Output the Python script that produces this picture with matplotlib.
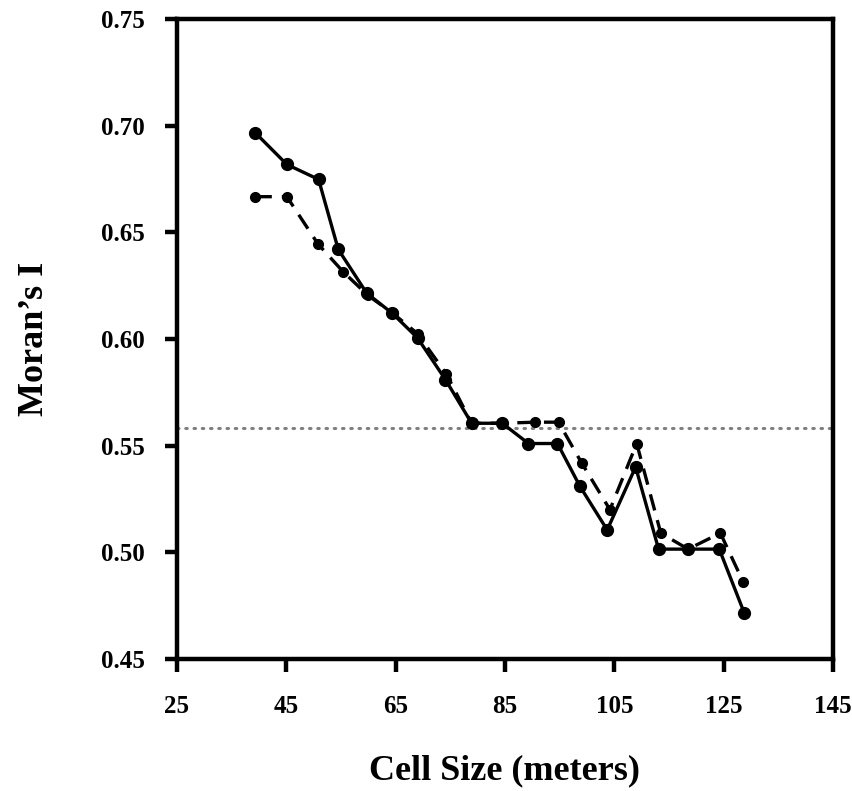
import matplotlib
matplotlib.use("Agg")
import matplotlib.pyplot as plt

# cell size vs Moran's I, two series
cell_solid = [39.3, 45.1, 50.9, 54.5, 59.7, 64.4, 69.0, 74.1, 78.9, 84.5,
              89.3, 94.6, 98.7, 103.7, 108.9, 113.1, 118.5, 124.2, 128.8]
moran_solid = [0.6967, 0.6818, 0.6748, 0.6420, 0.6215, 0.6120, 0.6005, 0.5810, 0.5605, 0.5605,
               0.5510, 0.5510, 0.5310, 0.5105, 0.5400, 0.5015, 0.5015, 0.5015, 0.4714]

cell_dash = [39.3, 45.1, 50.8, 55.4, 59.9, 64.5, 69.0, 74.3, 78.9, 84.5,
             90.5, 94.8, 99.0, 104.2, 109.1, 113.5, 118.5, 124.4, 128.6]
moran_dash = [0.6667, 0.6667, 0.6445, 0.6315, 0.6205, 0.6120, 0.6025, 0.5835, 0.5605, 0.5605,
              0.5610, 0.5610, 0.5420, 0.5200, 0.5510, 0.5090, 0.5015, 0.5090, 0.4860]

ref_level = 0.5585

xticks = [25, 45, 65, 85, 105, 125, 145]
yticks = [0.45, 0.50, 0.55, 0.60, 0.65, 0.70, 0.75]

plt.rcParams['font.family'] = ['Liberation Serif', 'DejaVu Serif']
plt.rcParams['font.weight'] = 'bold'

fig = plt.figure(figsize=(8.53, 7.91), dpi=100)
ax = fig.add_axes([0.2075, 0.1669, 0.769, 0.8091])

ax.axhline(ref_level, color='#808080', lw=2.2, ls=(0, (0.5, 2.2)), dash_capstyle='round', zorder=1)
ax.plot(cell_dash, moran_dash, color='black', lw=2.4, ls=(0, (5, 3)), marker='o', ms=7, zorder=2)
ax.plot(cell_solid, moran_solid, color='black', lw=2.4, marker='o', ms=8.5, zorder=3)

ax.set_xlim(25, 145)
ax.set_ylim(0.45, 0.75)
ax.set_xticks(xticks)
ax.set_yticks(yticks)
ax.set_xticklabels([str(t) for t in xticks])
ax.set_yticklabels(['%.2f' % t for t in yticks])

for s in ax.spines.values():
    s.set_linewidth(3.2)
ax.tick_params(direction='out', length=9, width=3.2, labelsize=18, pad=14)
ax.tick_params(axis='x', pad=17)
for lab in ax.get_xticklabels() + ax.get_yticklabels():
    lab.set_fontweight('bold')

ax.set_xlabel('Cell Size (meters)', fontsize=26, fontweight='bold', labelpad=26)
ax.set_ylabel('Moran\u2019s I', fontsize=26, fontweight='bold', labelpad=36)

fig.savefig('out.png', dpi=100)
